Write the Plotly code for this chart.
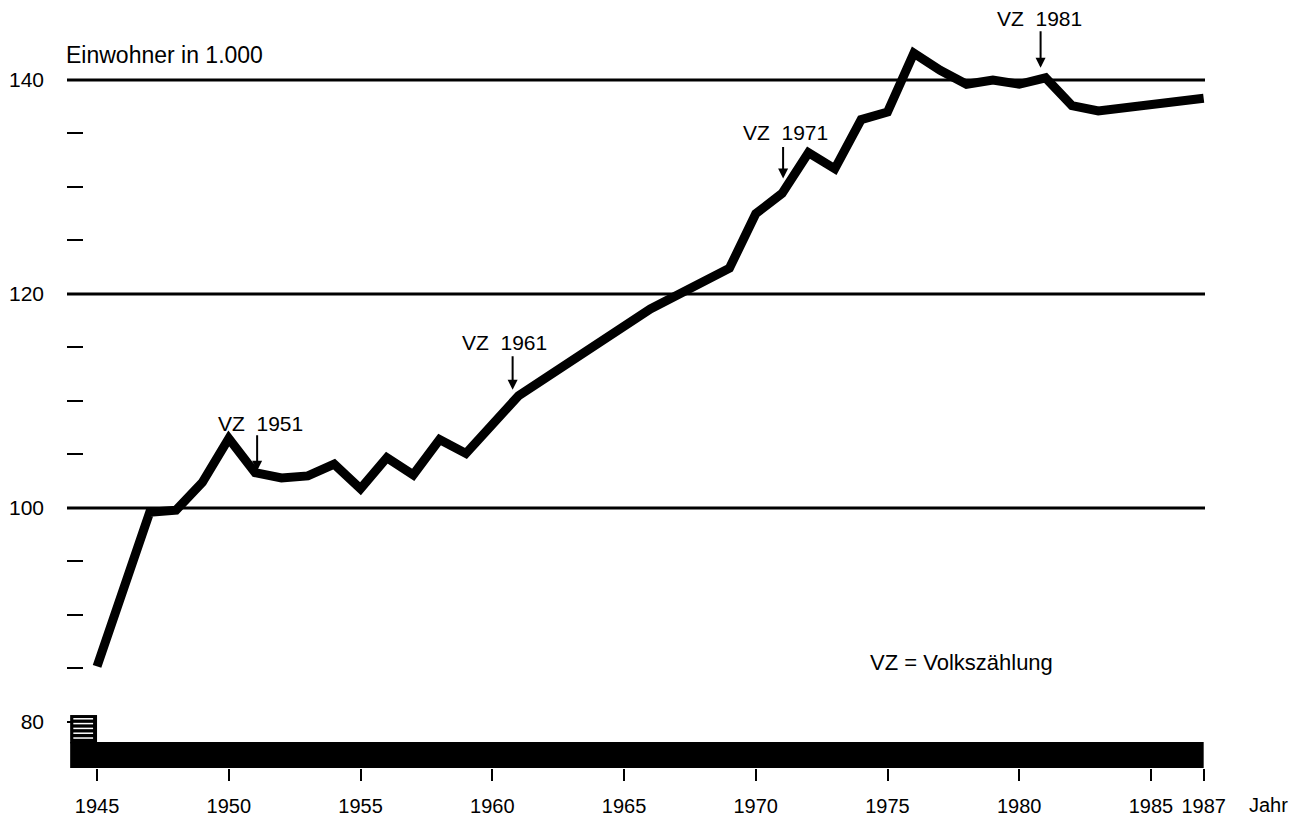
import plotly.graph_objects as go

# ---- data ----
years = [1945, 1947, 1948, 1949, 1950, 1951, 1952, 1953, 1954, 1955, 1956, 1957,
         1958, 1959, 1961, 1966, 1969, 1970, 1971, 1972, 1973, 1974, 1975, 1976,
         1977, 1978, 1979, 1980, 1981, 1982, 1983, 1987]
einwohner = [85.2, 99.6, 99.8, 102.4, 106.5, 103.3, 102.8, 103.0, 104.1, 101.8, 104.7, 103.1,
             106.4, 105.1, 110.5, 118.6, 122.4, 127.5, 129.4, 133.2, 131.7, 136.3, 137.0, 142.5,
             140.9, 139.6, 140.0, 139.6, 140.2, 137.6, 137.1, 138.3]

x_ticks = [1945, 1950, 1955, 1960, 1965, 1970, 1975, 1980, 1985, 1987]
y_ticks = [80, 100, 120, 140]
grid_levels = [100, 120, 140]

census_years = [1951, 1961, 1971, 1981]
census_labels = ["VZ  1951", "VZ  1961", "VZ  1971", "VZ  1981"]

FONT = "Liberation Sans Narrow, Liberation Sans, Arial, sans-serif"

fig = go.Figure()
fig.add_trace(go.Scatter(x=years, y=einwohner, mode="lines",
                         line=dict(color="black", width=9), hoverinfo="skip",
                         showlegend=False))

shapes = []
for g in grid_levels:
    shapes.append(dict(type="line", xref="paper", x0=0, x1=1, yref="y", y0=g, y1=g,
                       line=dict(color="black", width=3), layer="below"))
# axis-break band and hatched box
shapes.append(dict(type="rect", xref="x", yref="y", x0=1943.98, x1=1987, y0=75.7, y1=78.13,
                   fillcolor="black", line=dict(width=0)))
shapes.append(dict(type="rect", xref="x", yref="y", x0=1943.98, x1=1945, y0=78.0, y1=80.65,
                   fillcolor="black", line=dict(width=0)))
for hy in [80.3, 79.85, 79.4, 78.95, 78.5]:
    shapes.append(dict(type="line", xref="x", yref="y", x0=1944.1, x1=1944.85, y0=hy, y1=hy,
                       line=dict(color="white", width=1.5)))

annotations = []
# arrows and labels for census years
arrow_cfg = {1951: dict(ay=-39, standoff=2, xshift=2, txs=5, tys=49),
             1961: dict(ay=-41, standoff=6, xshift=-6, txs=-14, tys=53),
             1971: dict(ay=-48, standoff=15, xshift=1, txs=3, tys=61),
             1981: dict(ay=-48, standoff=10, xshift=-5, txs=-6, tys=59)}
for yr, lab in zip(census_years, census_labels):
    val = einwohner[years.index(yr)]
    c = arrow_cfg[yr]
    annotations.append(dict(x=yr, y=val, xref="x", yref="y", text="", showarrow=True,
                            ax=0, ay=c["ay"], standoff=c["standoff"], xshift=c["xshift"],
                            arrowhead=2, arrowsize=1, arrowwidth=2, arrowcolor="black"))
    annotations.append(dict(x=yr, y=val, xref="x", yref="y", text=lab, showarrow=False,
                            xshift=c["txs"], yshift=c["tys"],
                            font=dict(family=FONT, size=21, color="black")))

annotations.append(dict(x=0, y=0.966, xref="paper", yref="paper", text="Einwohner in 1.000",
                        showarrow=False, xanchor="left", yanchor="middle", xshift=-3,
                        font=dict(family=FONT, size=23, color="black")))
annotations.append(dict(x=0.704, y=0.1436, xref="paper", yref="paper", text="VZ = Volkszählung",
                        showarrow=False, xanchor="left", yanchor="middle",
                        font=dict(family=FONT, size=22, color="black")))
annotations.append(dict(x=1.037, y=0, xref="paper", yref="paper", text="Jahr",
                        showarrow=False, xanchor="left", yanchor="middle", yshift=-37,
                        font=dict(family=FONT, size=20, color="black")))

# page body has an 8px margin, so the figure is sized to fit inside the window
fig.update_layout(
    width=1286, height=812,
    margin=dict(l=59, r=89, t=22, b=52),
    paper_bgcolor="white", plot_bgcolor="white",
    showlegend=False,
    shapes=shapes, annotations=annotations,
    xaxis=dict(range=[1943.86, 1987.05], tickvals=x_ticks, ticktext=[str(t) for t in x_ticks],
               ticks="outside", ticklen=12, tickwidth=2, tickcolor="black", automargin=False,
               showgrid=False, zeroline=False, showline=False, ticklabelstandoff=8,
               tickfont=dict(family=FONT, size=20, color="black")),
    yaxis=dict(range=[75.7, 144.67], tickvals=y_ticks, ticktext=[str(t) for t in y_ticks],
               ticks="", showgrid=False, zeroline=False, showline=False, automargin=False,
               ticklabelstandoff=22,
               tickfont=dict(family=FONT, size=21, color="black"),
               minor=dict(dtick=5, tick0=80, ticks="inside", ticklen=16, tickwidth=2,
                          tickcolor="black", showgrid=False)),
)

fig.write_html("out.html")
